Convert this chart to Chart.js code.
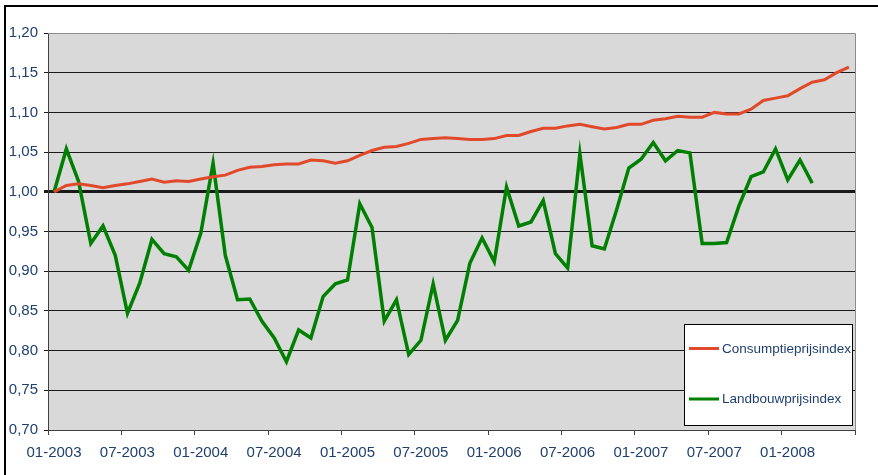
<!DOCTYPE html>
<html>
<head>
<meta charset="utf-8">
<script src="https://cdn.jsdelivr.net/npm/chart.js@4.4.1/dist/chart.umd.min.js"></script>
<style>
  html, body { margin: 0; padding: 0; background: #fff; }
  #wrap { position: relative; width: 878px; height: 475px; overflow: hidden; }
  #frame { position: absolute; left: 4px; top: 5px; width: 900px; height: 500px;
           border-left: 2px solid #000; border-top: 2px solid #000; }
  canvas { position: absolute; left: 0; top: 0; }
</style>
</head>
<body>
<div id="wrap">
  <div id="frame"></div>
  <canvas id="chart" width="878" height="475"></canvas>
</div>
<script>
// maandelijkse index, 01-2003 = 1
const cpi = [
  1.000, 1.008, 1.010, 1.008, 1.005, 1.008, 1.010, 1.013, 1.016, 1.012, 1.014, 1.013,
  1.016, 1.019, 1.021, 1.027, 1.031, 1.032, 1.034, 1.035, 1.035, 1.040, 1.039, 1.036,
  1.039, 1.046, 1.052, 1.056, 1.057, 1.061, 1.066, 1.067, 1.068, 1.067, 1.066, 1.066,
  1.067, 1.071, 1.071, 1.076, 1.080, 1.080, 1.083, 1.085, 1.082, 1.079, 1.081, 1.085,
  1.085, 1.090, 1.092, 1.095, 1.094, 1.094, 1.100, 1.098, 1.098, 1.104, 1.115, 1.118,
  1.121, 1.130, 1.138, 1.141, 1.150, 1.157
];
const landbouw = [
  1.000, 1.054, 1.013, 0.935, 0.957, 0.920, 0.847, 0.885, 0.940, 0.922, 0.918, 0.901,
  0.948, 1.036, 0.920, 0.864, 0.865, 0.837, 0.816, 0.786, 0.826, 0.816, 0.868, 0.884,
  0.889, 0.985, 0.955, 0.837, 0.864, 0.795, 0.813, 0.884, 0.813, 0.838, 0.910, 0.942,
  0.912, 1.006, 0.957, 0.962, 0.989, 0.922, 0.904, 1.048, 0.932, 0.928, 0.977, 1.030,
  1.041, 1.062, 1.039, 1.052, 1.049, 0.935, 0.935, 0.936, 0.982, 1.019, 1.025, 1.054,
  1.015, 1.040, 1.011
];
const tickLabels = ['01-2003', '07-2003', '01-2004', '07-2004', '01-2005', '07-2005',
                    '01-2006', '07-2006', '01-2007', '07-2007', '01-2008'];
const seriesNames = ['Consumptieprijsindex', 'Landbouwprijsindex'];

const textColor = '#1F3F6F';
const font = { family: 'Liberation Sans, Arial, sans-serif', size: 15 };

// each month sits in the middle of its slot on the axis
const toPoints = arr => arr.map((v, i) => ({ x: i + 0.5, y: v }));

const plotBackground = {
  id: 'plotBackground',
  beforeDraw(chart) {
    const { ctx, chartArea: a } = chart;
    ctx.save();
    ctx.fillStyle = '#D9D9D9';
    ctx.fillRect(a.left, a.top, a.right - a.left, a.bottom - a.top);
    ctx.restore();
  },
  afterDatasetsDraw(chart) {
    const { ctx, chartArea: a } = chart;
    ctx.save();
    ctx.strokeStyle = '#8c8c8c';
    ctx.lineWidth = 1;
    ctx.beginPath();
    ctx.moveTo(a.left, a.top + 0.5);
    ctx.lineTo(a.right + 0.5, a.top + 0.5);
    ctx.lineTo(a.right + 0.5, a.bottom);
    ctx.stroke();
    ctx.restore();
  }
};

const boxLegend = {
  id: 'boxLegend',
  afterDraw(chart) {
    const { ctx } = chart;
    const x = 684.5, y = 324.5, w = 168, h = 101;
    ctx.save();
    ctx.fillStyle = '#fff';
    ctx.fillRect(x, y, w, h);
    ctx.strokeStyle = '#000';
    ctx.lineWidth = 1;
    ctx.strokeRect(x, y, w, h);
    const rows = [348.5, 399];
    chart.data.datasets.forEach((ds, i) => {
      ctx.strokeStyle = ds.borderColor;
      ctx.lineWidth = 3;
      ctx.beginPath();
      ctx.moveTo(689, rows[i]);
      ctx.lineTo(719, rows[i]);
      ctx.stroke();
      ctx.fillStyle = textColor;
      ctx.font = '13.5px "Liberation Sans", Arial, sans-serif';
      ctx.textBaseline = 'middle';
      ctx.fillText(ds.label, 722, rows[i] + 0.5);
    });
    ctx.restore();
  }
};

new Chart(document.getElementById('chart'), {
  type: 'line',
  data: {
    datasets: [{
      label: seriesNames[0],
      data: toPoints(cpi),
      borderColor: '#E04A2A',
      borderWidth: 3,
      tension: 0,
      pointRadius: 0
    }, {
      label: seriesNames[1],
      data: toPoints(landbouw),
      borderColor: '#008000',
      borderWidth: 3.5,
      tension: 0,
      pointRadius: 0
    }]
  },
  options: {
    responsive: false,
    animation: false,
    layout: { padding: { top: 33, right: 23, left: 0, bottom: 0 } },
    scales: {
      x: {
        type: 'linear',
        min: 0,
        max: 66,
        afterFit: s => { s.height = 45; },
        ticks: {
          stepSize: 6,
          autoSkip: false,
          maxRotation: 0,
          padding: 9,
          labelOffset: 6,
          color: textColor,
          font: font,
          callback: v => tickLabels[v / 6] || ''
        },
        grid: { drawOnChartArea: false, drawTicks: true, tickLength: 5, color: '#404040' },
        border: { display: true, color: '#404040', width: 1 }
      },
      y: {
        min: 0.70,
        max: 1.20,
        afterFit: s => { s.width = 48; },
        ticks: {
          stepSize: 0.05,
          padding: 6,
          color: textColor,
          font: font,
          callback: v => v.toFixed(2).replace('.', ',')
        },
        grid: {
          color: '#1a1a1a',
          lineWidth: c => Math.abs(c.tick.value - 1) < 1e-6 ? 3 : 1,
          drawTicks: true,
          tickLength: 4
        },
        border: { display: true, color: '#404040', width: 1 }
      }
    },
    plugins: {
      legend: { display: false },
      tooltip: { enabled: false }
    }
  },
  plugins: [plotBackground, boxLegend]
});
</script>
</body>
</html>
